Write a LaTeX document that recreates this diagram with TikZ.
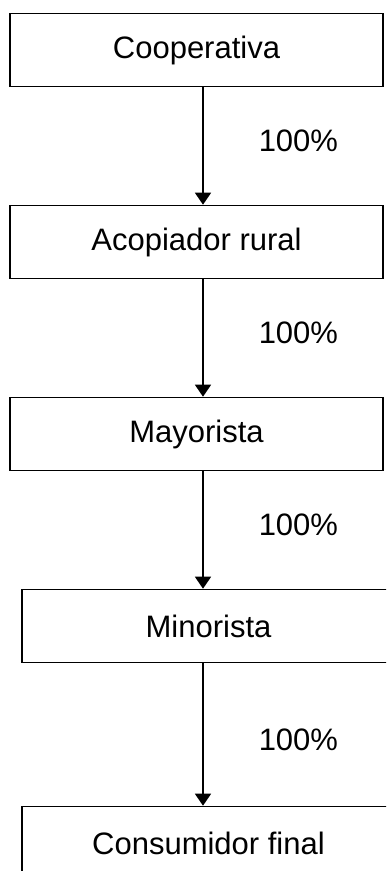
\documentclass[tikz,border=0pt]{standalone}
\usepackage{fontspec}
\setmainfont{Liberation Sans}
\usetikzlibrary{arrows.meta}

\begin{document}
\begin{tikzpicture}[x = 1pt, y = -1pt, font = \fontsize{31}{37}\selectfont]
\tikzstyle{boxStyle}=[shape = rectangle, draw, line width = 1.6pt, minimum width = 373pt, minimum height = 73pt, inner sep = 0pt]
\tikzstyle{flowStyle}=[line width = 1.5pt, -{Triangle[length = 12pt, width = 16pt]}]
\tikzstyle{shareStyle}=[inner sep = 0pt, right = 55pt]
\clip (0, 0) rectangle (386, 871);
\coordinate (axis) at (203, 0);
\node[boxStyle] (coop) at (196.5, 50) {Cooperativa};
\node[boxStyle] (acop) at (196.5, 242) {Acopiador rural};
\node[boxStyle] (mayo) at (196.5, 434) {Mayorista};
\node[boxStyle] (mino) at (208.5, 626) {Minorista};
\node[boxStyle] (cons) at (208.5, 843) {Consumidor final};
\draw[flowStyle] (coop.south -| axis) -- node[shareStyle, pos = 0.46] {100\%} (acop.north -| axis);
\draw[flowStyle] (acop.south -| axis) -- node[shareStyle, pos = 0.46] {100\%} (mayo.north -| axis);
\draw[flowStyle] (mayo.south -| axis) -- node[shareStyle, pos = 0.46] {100\%} (mino.north -| axis);
\draw[flowStyle] (mino.south -| axis) -- node[shareStyle, pos = 0.54] {100\%} (cons.north -| axis);
\end{tikzpicture}
\end{document}
